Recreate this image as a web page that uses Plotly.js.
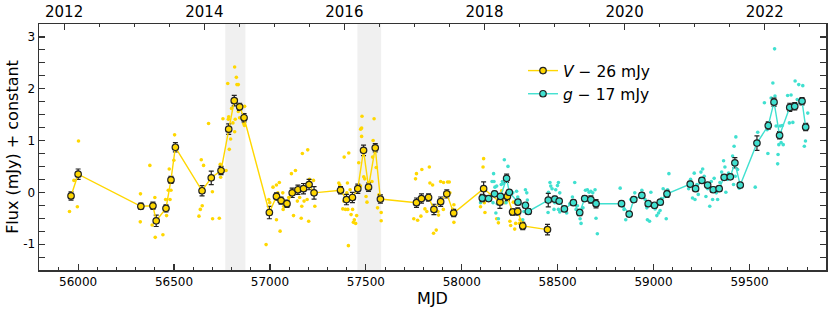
<!DOCTYPE html>
<html>
<head>
<meta charset="utf-8">
<script src="https://cdn.plot.ly/plotly-3.0.1.min.js"></script>
<style>html,body{margin:0;padding:0;background:#fff;}#chart{width:831px;height:310px;}</style>
</head>
<body>
<div id="chart"></div>
<script>
// ---------- binned V-band light curve (V - 26 mJy) ----------
var vMJD = [55963,56000,56327,56390,56407,56458,56484,56507,56646,56694,56745,56785,56814,56842,56865,56997,57034,57058,57089,57116,57146,57175,57204,57230,57368,57399,57430,57458,57488,57514,57549,57576,57764,57790,57827,57855,57890,57922,57958,58114,58199,58238,58265,58292,58318,58447];
var vFlux = [-0.07,0.35,-0.27,-0.26,-0.55,-0.31,0.24,0.87,0.03,0.28,0.42,1.22,1.77,1.65,1.44,-0.39,-0.08,-0.16,-0.22,-0.01,0.05,0.07,0.15,-0.01,0.04,-0.14,-0.10,0.07,0.81,0.10,0.86,-0.13,-0.20,-0.12,-0.10,-0.33,-0.18,-0.03,-0.40,0.07,-0.19,-0.08,-0.38,-0.37,-0.65,-0.72];
var vErr = [0.08,0.10,0.06,0.07,0.11,0.07,0.07,0.09,0.10,0.13,0.08,0.10,0.10,0.07,0.08,0.12,0.07,0.07,0.07,0.09,0.09,0.10,0.10,0.12,0.07,0.10,0.10,0.09,0.10,0.08,0.08,0.08,0.09,0.09,0.07,0.10,0.09,0.08,0.07,0.13,0.12,0.08,0.06,0.07,0.07,0.10];

// ---------- binned g-band light curve (g - 17 mJy) ----------
var gMJD = [58107,58140,58171,58202,58234,58248,58293,58332,58347,58451,58485,58508,58535,58582,58615,58641,58673,58700,58833,58873,58897,58939,58972,59005,59035,59070,59191,59219,59252,59282,59311,59342,59368,59400,59424,59452,59539,59598,59628,59657,59710,59736,59774,59793];
var gFlux = [-0.11,-0.12,-0.03,-0.08,0.27,0.00,-0.19,-0.25,-0.37,-0.15,-0.13,-0.17,-0.32,-0.20,-0.39,-0.12,-0.14,-0.22,-0.22,-0.42,-0.14,-0.06,-0.22,-0.25,-0.19,-0.03,0.16,0.07,0.23,0.14,0.05,0.07,0.29,0.30,0.57,0.14,0.95,1.29,1.74,1.10,1.64,1.66,1.76,1.26];
var gErr = [0.07,0.05,0.05,0.05,0.08,0.05,0.05,0.05,0.05,0.13,0.05,0.05,0.05,0.05,0.06,0.05,0.07,0.08,0.05,0.05,0.05,0.05,0.05,0.05,0.05,0.07,0.05,0.05,0.05,0.05,0.05,0.05,0.05,0.05,0.10,0.05,0.14,0.07,0.08,0.07,0.08,0.07,0.07,0.07];

// ---------- individual V-band measurements ----------
var vDotMJD = [55955,55978,55996,56002,56325,56324,56374,56386,56400,56402,56442,56456,56461,56470,56475,56479,56484,56499,56503,56642,56654,56647,56637,56630,56680,56700,56701,56736,56741,56743,56755,56771,56780,56785,56783,56788,56795,56800,56807,56816,56819,56816,56825,56828,56835,56825,56835,56842,56868,56863,56867,56980,56999,56994,57016,57034,57034,57049,57053,57041,57067,57069,57072,57098,57112,57123,57133,57143,57155,57166,57169,57163,57178,57197,57202,57206,57227,57234,57194,57359,57364,57387,57380,57385,57394,57401,57404,57411,57406,57409,57418,57423,57431,57435,57440,57447,57452,57463,57472,57473,57478,57478,57480,57489,57494,57501,57506,57515,57532,57538,57543,57535,57554,57561,57568,57580,57580,57750,57759,57764,57770,57787,57792,57808,57818,57831,57834,57848,57853,57867,57876,57879,57890,57904,57905,57921,57926,57935,57938,57954,57959,57959,58114,58111,58118,58121,58098,58191,58182,58208,58224,58251,58255,58276,58281,58300,58304,58316,58269,58243];
var vDotFlux = [-0.37,0.23,-0.28,0.99,-0.03,-0.57,0.52,-0.63,-0.10,-0.87,-0.82,-0.14,-0.45,0.04,0.45,-0.14,0.04,0.62,1.11,0.63,0.52,-0.26,-0.33,-0.46,1.33,0.01,-0.51,-0.50,0.54,0.29,1.42,0.42,2.10,1.46,1.41,0.83,1.03,1.62,1.34,2.42,1.41,1.17,2.22,2.08,2.08,1.79,1.56,1.44,1.66,1.33,1.29,-1.01,-0.20,-0.14,0.10,0.14,-0.53,0.19,-0.75,-0.01,-0.01,-0.33,-0.27,-0.10,0.36,-0.45,0.42,-0.17,-0.10,-0.27,0.75,-0.50,-0.17,0.82,-0.56,0.25,0.23,-0.27,-0.14,0.18,0.14,0.68,-0.32,-0.17,-0.33,-0.01,0.18,0.76,-0.33,-1.03,0.05,-0.43,-0.33,-0.58,-0.53,-0.60,-0.45,0.57,0.12,1.22,1.24,1.08,1.47,0.30,0.26,-0.08,-0.19,0.19,0.21,1.00,1.42,0.68,0.48,-0.30,-0.05,-0.39,-0.55,-0.51,0.26,0.36,-0.54,-0.46,0.44,-0.32,-0.37,0.49,0.18,0.14,-0.79,-0.73,-0.37,-0.44,0.21,-0.33,0.19,-0.08,0.20,0.20,-0.01,-0.33,-0.24,-0.58,0.65,0.49,-0.20,-0.39,-0.28,-0.59,-0.51,0.03,-0.20,-0.56,-0.64,-0.71,-0.60,-0.60,-0.53,-0.58,-0.19,-0.14];

// ---------- individual g-band measurements ----------
var gDotMJD = [58098,58105,58116,58158,58166,58168,58173,58182,58163,58185,58191,58178,58222,58241,58212,58217,58206,58231,58266,58286,58292,58297,58332,58339,58342,58324,58318,58452,58460,58464,58471,58490,58499,58504,58481,58504,58511,58450,58485,58511,58547,58563,58577,58589,58596,58603,58617,58622,58632,58637,58645,58655,58664,58673,58683,58695,58700,58707,58826,58829,58838,58846,58855,58881,58902,58939,58956,58965,58968,58979,58986,59008,59017,59026,59034,59041,59050,59060,59073,59080,59066,59183,59193,59203,59212,59216,59226,59233,59247,59256,59264,59273,59282,59293,59301,59308,59316,59327,59334,59346,59355,59365,59372,59377,59386,59391,59403,59412,59420,59429,59417,59426,59438,59447,59530,59543,59578,59592,59596,59604,59613,59622,59631,59633,59639,59647,59649,59653,59660,59665,59671,59676,59699,59708,59717,59726,59738,59749,59757,59769,59778,59786,59792,59804];
var gDotFlux = [-0.20,-0.11,0.08,0.21,0.36,0.21,0.10,0.12,-0.20,-0.22,-0.51,-0.40,0.63,0.50,0.21,0.17,0.15,-0.20,-0.01,0.02,-0.09,-0.15,0.05,-0.01,-0.15,-0.37,-0.53,0.00,0.19,0.12,0.07,0.05,0.13,0.19,-0.33,-0.33,-0.38,-0.39,-0.20,-0.01,-0.40,-0.22,-0.09,0.19,-0.33,-0.26,-0.51,-0.60,-0.30,-0.14,0.04,0.05,0.00,0.02,-0.01,0.05,-0.50,-0.80,0.08,-0.20,-0.27,-0.33,-0.53,-0.14,-0.01,0.04,-0.14,-0.30,-0.53,-0.56,0.00,-0.32,-0.45,-0.40,-0.35,-0.12,0.07,-0.08,0.05,0.36,-0.51,0.07,0.25,-0.11,0.37,-0.14,0.15,-0.04,0.39,0.45,0.31,-0.08,0.07,-0.27,0.21,-0.14,0.27,-0.01,-0.14,0.19,0.39,0.61,0.49,0.00,0.25,0.37,0.33,0.70,0.89,1.07,0.15,0.31,0.44,0.08,0.10,1.16,1.73,1.21,0.75,1.34,1.82,2.11,2.77,1.86,1.28,0.55,0.73,0.92,1.28,0.96,1.29,0.92,1.87,1.34,1.88,1.35,2.15,1.79,2.08,1.79,2.06,0.89,0.99,1.53];

// ---------- shaded intervals (MJD) ----------
var shadeStart = [56767, 57456];
var shadeEnd   = [56872, 57580];

// ---------- top axis (calendar years) ----------
var yearLabels = ['2012','2014','2016','2018','2020','2022'];
var minorYears = [2011.5,2012,2012.5,2013,2013.5,2014,2014.5,2015,2015.5,2016,2016.5,2017,2017.5,2018,2018.5,2019,2019.5,2020,2020.5,2021,2021.5,2022,2022.5,2023];

// ---------- legend labels ----------
var vName = '<i>V</i> − 26 mJy';
var gName = '<i>g</i> − 17 mJy';

var V_COL = '#FFD700', G_COL = '#40E0D0';
var xRange = [55796, 59899], yRange = [-1.5, 3.25];

function yearToMJD(y) {
  var yr = Math.floor(y), frac = y - yr;
  var a = Date.UTC(yr, 0, 1), b = Date.UTC(yr + 1, 0, 1);
  var t = a + frac * (b - a);
  return (t - Date.UTC(1858, 10, 17)) / 86400000;
}

var traces = [
  {x: vDotMJD, y: vDotFlux, type: 'scatter', mode: 'markers', showlegend: false,
   marker: {color: V_COL, size: 3.6, line: {width: 0}}, hoverinfo: 'skip'},
  {x: gDotMJD, y: gDotFlux, type: 'scatter', mode: 'markers', showlegend: false,
   marker: {color: G_COL, size: 3.6, line: {width: 0}}, hoverinfo: 'skip'},
  {x: vMJD, y: vFlux, type: 'scatter', mode: 'lines+markers', name: vName,
   line: {color: V_COL, width: 1.4},
   marker: {color: V_COL, size: 6.5, line: {color: '#222', width: 1.2}},
   error_y: {type: 'data', array: vErr, visible: true, color: '#222', thickness: 1.2, width: 2.5}},
  {x: gMJD, y: gFlux, type: 'scatter', mode: 'lines+markers', name: gName,
   line: {color: G_COL, width: 1.4},
   marker: {color: G_COL, size: 6.5, line: {color: '#222', width: 1.2}},
   error_y: {type: 'data', array: gErr, visible: true, color: '#222', thickness: 1.2, width: 2.5}},
  {x: [], y: [], xaxis: 'x2', yaxis: 'y', showlegend: false, type: 'scatter', mode: 'markers'}
];

var shapes = shadeStart.map(function (s, i) {
  return {type: 'rect', xref: 'x', yref: 'paper', x0: s, x1: shadeEnd[i], y0: 0, y1: 1,
          fillcolor: 'rgba(128,128,128,0.12)', line: {width: 0}, layer: 'below'};
});

var axisLine = {showline: true, linecolor: '#333', linewidth: 1.5, mirror: false, zeroline: false, showgrid: false};

var layout = {
  width: 831, height: 310,
  margin: {l: 39, r: 5, t: 24, b: 40, pad: 0},
  paper_bgcolor: '#fff', plot_bgcolor: '#fff',
  font: {family: 'DejaVu Sans', color: '#000'},
  showlegend: true,
  legend: {x: 0.615, y: 0.878, xanchor: 'left', yanchor: 'top', bgcolor: 'rgba(0,0,0,0)',
           font: {size: 15.5, family: 'DejaVu Sans'}, tracegroupgap: 0, itemwidth: 30},
  xaxis: Object.assign({}, axisLine, {
    range: xRange, mirror: false, ticks: 'inside', ticklen: 6, tickwidth: 1.2, tickcolor: '#333',
    tickmode: 'linear', tick0: 56000, dtick: 500, tickformat: 'd',
    tickfont: {size: 12}, 
    minor: {ticks: 'inside', ticklen: 3, tickwidth: 1, tickcolor: '#333', dtick: 100, tick0: 56000},
    title: {text: 'MJD', font: {size: 16}, standoff: 1}
  }),
  xaxis2: Object.assign({}, axisLine, {
    overlaying: 'x', side: 'top', anchor: 'y', range: xRange,
    ticks: 'inside', ticklen: 6, tickwidth: 1.2, tickcolor: '#333',
    tickmode: 'array', tickvals: yearLabels.map(function (s) { return yearToMJD(+s); }), ticktext: yearLabels,
    tickfont: {size: 15},
    minor: {ticks: 'inside', ticklen: 3, tickwidth: 1, tickcolor: '#333', tickvals: minorYears.map(yearToMJD)}
  }),
  yaxis: Object.assign({}, axisLine, {
    range: yRange, mirror: 'allticks', ticks: 'inside', ticklen: 6, tickwidth: 1.2, tickcolor: '#333',
    tickmode: 'array', tickvals: [-1, 0, 1, 2, 3], ticktext: ['-1', '0', '1', '2', '3'],
    tickfont: {size: 12},
    minor: {ticks: 'inside', ticklen: 3, tickwidth: 1, tickcolor: '#333', dtick: 0.25, tick0: 0},
    title: {text: 'Flux (mJy) + constant', font: {size: 16}, standoff: 0}
  }),
  shapes: shapes
};

Plotly.newPlot('chart', traces, layout, {staticPlot: true, displayModeBar: false});
</script>
</body>
</html>
